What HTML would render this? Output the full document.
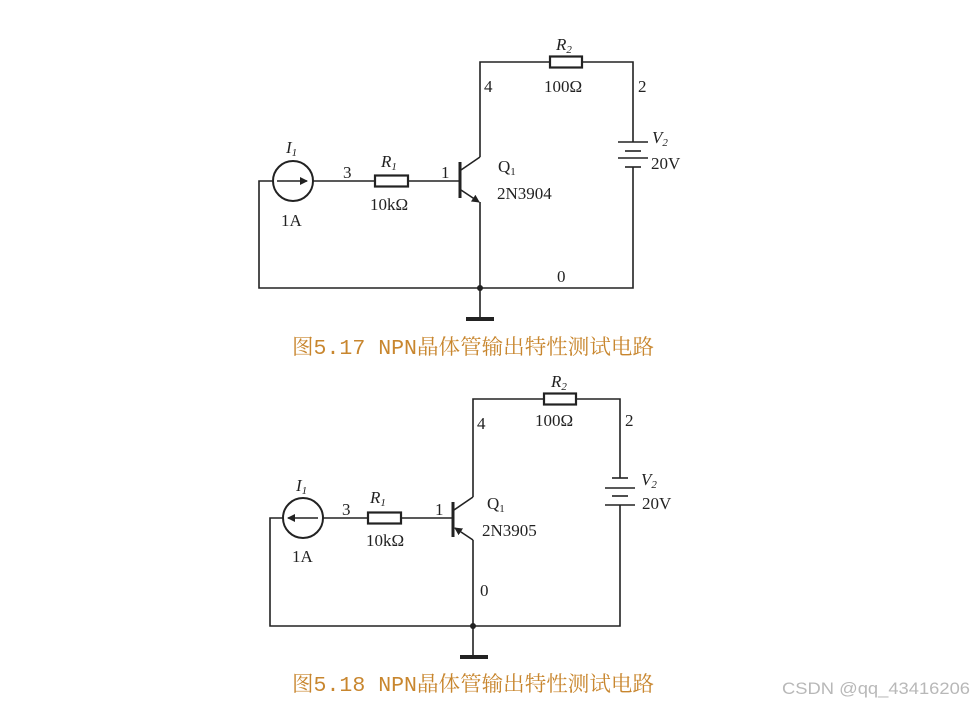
<!DOCTYPE html>
<html><head><meta charset="utf-8"><style>
html,body{margin:0;padding:0;background:#fff;}
svg{display:block;}
text{font-family:"Liberation Serif","Noto Serif CJK SC",serif;font-size:17px;fill:#222;}
.i{font-style:italic;}
.cap{font-family:"Liberation Mono","Noto Serif CJK SC",serif;font-size:21px;fill:#c8862e;}
</style></head><body>
<svg width="974" height="706" viewBox="0 0 974 706" xmlns="http://www.w3.org/2000/svg">
<defs>
<marker id="a" markerWidth="8" markerHeight="8" refX="7" refY="4" orient="auto" markerUnits="userSpaceOnUse"><path d="M0,0 L8,4 L0,8 Z" fill="#222"/></marker>
</defs>
<g stroke="#222" stroke-width="1.6" fill="none">
<polyline points="480,157 480,62 550,62"/>
<rect x="550" y="56.5" width="32" height="11" stroke-width="2.2"/>
<polyline points="582,62 633,62 633,142"/>
<line x1="618" y1="142" x2="648" y2="142"/><line x1="625" y1="151" x2="641" y2="151"/>
<line x1="618" y1="158" x2="648" y2="158"/><line x1="625" y1="167" x2="641" y2="167"/>
<polyline points="633,167 633,288 259,288 259,181 273,181"/>
<circle cx="293" cy="181" r="20" stroke-width="2"/>
<line x1="277" y1="181" x2="307" y2="181" marker-end="url(#a)"/>
<line x1="313" y1="181" x2="375" y2="181"/>
<rect x="375" y="175.5" width="33" height="11" stroke-width="2.2"/>
<line x1="408" y1="181" x2="460" y2="181"/>
<line x1="460" y1="162" x2="460" y2="198" stroke-width="3"/>
<line x1="461" y1="170" x2="480" y2="157"/>
<line x1="461" y1="190" x2="479" y2="202" marker-end="url(#a)"/>
<line x1="480" y1="202" x2="480" y2="320"/>
<line x1="466" y1="319" x2="494" y2="319" stroke-width="4"/>
<polyline points="473,497 473,399 544,399"/>
<rect x="544" y="393.5" width="32" height="11" stroke-width="2.2"/>
<polyline points="576,399 620,399 620,478"/>
<line x1="612" y1="478" x2="628" y2="478"/><line x1="605" y1="488" x2="635" y2="488"/>
<line x1="612" y1="496" x2="628" y2="496"/><line x1="605" y1="505" x2="635" y2="505"/>
<polyline points="620,505 620,626 270,626 270,518 283,518"/>
<circle cx="303" cy="518" r="20" stroke-width="2"/>
<line x1="318" y1="518" x2="288" y2="518" marker-end="url(#a)"/>
<line x1="323" y1="518" x2="368" y2="518"/>
<rect x="368" y="512.5" width="33" height="11" stroke-width="2.2"/>
<line x1="401" y1="518" x2="453" y2="518"/>
<line x1="453" y1="502" x2="453" y2="537" stroke-width="3"/>
<line x1="454" y1="510" x2="473" y2="497"/>
<line x1="473" y1="540" x2="455" y2="528" marker-end="url(#a)"/>
<line x1="473" y1="540" x2="473" y2="657"/>
<line x1="460" y1="657" x2="488" y2="657" stroke-width="4"/>
</g>
<circle cx="480" cy="288" r="3" fill="#222"/>
<circle cx="473" cy="626" r="3" fill="#222"/>
<text x="556" y="50" class="i">R<tspan font-size="11" dy="3">2</tspan></text>
<text x="544" y="92">100Ω</text>
<text x="484" y="92">4</text>
<text x="638" y="92">2</text>
<text x="652" y="143" class="i">V<tspan font-size="11" dy="3">2</tspan></text>
<text x="651" y="169">20V</text>
<text x="286" y="153" class="i">I<tspan font-size="11" dy="3">1</tspan></text>
<text x="343" y="178">3</text>
<text x="381" y="167" class="i">R<tspan font-size="11" dy="3">1</tspan></text>
<text x="441" y="178">1</text>
<text x="370" y="210">10kΩ</text>
<text x="281" y="226">1A</text>
<text x="498" y="172">Q<tspan font-size="11" dy="3">1</tspan></text>
<text x="497" y="199">2N3904</text>
<text x="557" y="282">0</text>
<text x="473" y="354" text-anchor="middle" class="cap" textLength="362" lengthAdjust="spacingAndGlyphs">图5.17 NPN晶体管输出特性测试电路</text>
<text x="551" y="387" class="i">R<tspan font-size="11" dy="3">2</tspan></text>
<text x="535" y="426">100Ω</text>
<text x="477" y="429">4</text>
<text x="625" y="426">2</text>
<text x="641" y="485" class="i">V<tspan font-size="11" dy="3">2</tspan></text>
<text x="642" y="509">20V</text>
<text x="296" y="491" class="i">I<tspan font-size="11" dy="3">1</tspan></text>
<text x="342" y="515">3</text>
<text x="370" y="503" class="i">R<tspan font-size="11" dy="3">1</tspan></text>
<text x="435" y="515">1</text>
<text x="366" y="546">10kΩ</text>
<text x="292" y="562">1A</text>
<text x="487" y="509">Q<tspan font-size="11" dy="3">1</tspan></text>
<text x="482" y="536">2N3905</text>
<text x="480" y="596">0</text>
<text x="473" y="691" text-anchor="middle" class="cap" textLength="362" lengthAdjust="spacingAndGlyphs">图5.18 NPN晶体管输出特性测试电路</text>
<text x="782" y="694" textLength="188" lengthAdjust="spacingAndGlyphs" style="font-family:'Liberation Sans',sans-serif;font-size:17px;fill:#b8b8b8;">CSDN @qq_43416206</text>
</svg>
</body></html>
